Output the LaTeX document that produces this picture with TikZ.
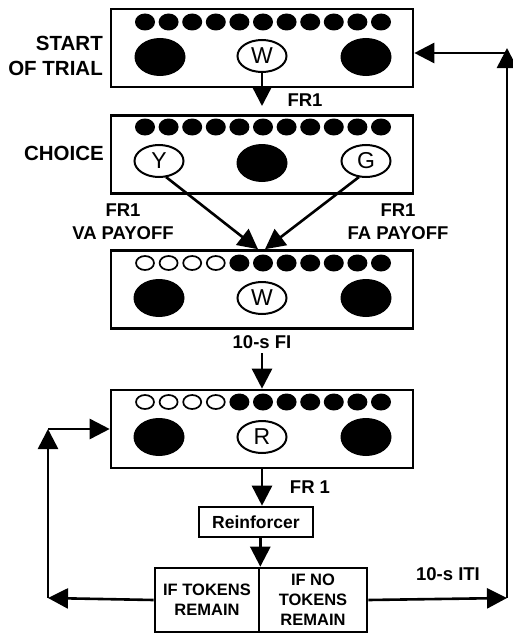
\documentclass[tikz,border=0pt]{standalone}
\usepackage{fontspec}
\setmainfont{Liberation Sans}
\usetikzlibrary{shapes.geometric,arrows.meta,calc}
\begin{document}
\begin{tikzpicture}[x=1pt,y=-1pt,
  panel/.style={draw, line width=2.6pt, minimum width=302pt, minimum height=78pt, inner sep=0pt},
  tok/.style={ellipse, fill=black, minimum width=20pt, minimum height=17pt, inner sep=0pt},
  otok/.style={ellipse, draw, line width=1.7pt, minimum width=18pt, minimum height=14pt, inner sep=0pt},
  bigkey/.style={ellipse, fill=black, minimum width=51pt, minimum height=38pt, inner sep=0pt},
  lkey/.style={ellipse, draw, line width=2pt, minimum width=49pt, minimum height=32pt, inner sep=0pt, font=\fontsize{23}{23}\selectfont},
  lbl/.style={font=\bfseries\fontsize{18.5}{23}\selectfont, align=center, inner sep=0pt},
  side/.style={font=\bfseries\fontsize{20.5}{25}\selectfont, align=right, inner sep=0pt, anchor=east},
  cbox/.style={draw, line width=2.6pt, inner sep=0pt, align=center, font=\bfseries\fontsize{16.5}{20}\selectfont},
  arr/.style={line width=2.6pt, -{Triangle[length=20pt,width=20pt]}},
  ln/.style={line width=2.6pt}]
\useasboundingbox (0,0) rectangle (513,634);

% panels
\node[panel] (b1) at (262,48) {};
\node[panel] (b2) at (262,154.5) {};
\node[panel] (b3) at (262,289.5) {};
\node[panel] (b4) at (262,429) {};

% token rows
\foreach \i in {0,...,10} {
  \node[tok] (t1-\i) at ({145+23.6*\i},22) {};
  \node[tok] (t2-\i) at ({145+23.6*\i},127) {};
}
\foreach \i in {0,...,3} {
  \node[otok] (t3-\i) at ({145+23.6*\i},263) {};
  \node[otok] (t4-\i) at ({145+23.6*\i},402) {};
}
\foreach \i in {4,...,10} {
  \node[tok] (t3-\i) at ({145+23.6*\i},263) {};
  \node[tok] (t4-\i) at ({145+23.6*\i},402) {};
}

% keys
\node[bigkey] (k1l) at (160,57) {};
\node[lkey] (k1c) at (262,56) {W};
\node[bigkey] (k1r) at (366,57) {};

\node[lkey] (k2l) at (159,161) {Y};
\node[bigkey] (k2c) at (262,163) {};
\node[lkey] (k2r) at (366,161) {G};

\node[bigkey] (k3l) at (159,298) {};
\node[lkey] (k3c) at (262,298) {W};
\node[bigkey] (k3r) at (366,298) {};

\node[bigkey] (k4l) at (159,437) {};
\node[lkey] (k4c) at (262,437) {R};
\node[bigkey] (k4r) at (366,437) {};

% side labels
\node[side] (s1) at (103,55.5) {START\\OF TRIAL};
\node[side] (s2) at (104,153) {CHOICE};

% labels
\node[lbl] (fr1a) at (305,100) {FR1};
\node[lbl] (va) at (123,221.5) {FR1\\VA PAYOFF};
\node[lbl] (fa) at (398,221.5) {FR1\\FA PAYOFF};
\node[lbl] (fi) at (262,342) {10-s FI};
\node[lbl] (fr1b) at (310,487) {FR 1};
\node[lbl] (iti) at (448,574) {10-s ITI};

% reinforcer and outcome boxes
\node[cbox, minimum width=114pt, minimum height=30pt, font=\bfseries\fontsize{17.5}{20}\selectfont] (rf) at (256,522) {Reinforcer};
\node[cbox, minimum width=104pt, minimum height=64pt] (yes) at (207,600) {IF TOKENS\\REMAIN};
\node[cbox, minimum width=108pt, minimum height=64pt] (no) at (313,600) {IF NO\\TOKENS\\REMAIN};

% coordinates
\coordinate (a1) at (262,106);
\coordinate (fiTop) at (262,353);
\coordinate (cl) at (48,598);
\coordinate (clt) at (48,429);
\coordinate (cr) at (507,598);
\coordinate (crt) at (507,48);
\coordinate (crh) at (507,53);
\coordinate (ylo) at (166,177);
\coordinate (glo) at (359,177);

% connectors
\draw[arr] (k1c.south) -- (a1);
\draw[arr] (ylo) -- ($(b3.north)+(-4,0)$);
\draw[arr] (glo) -- ($(b3.north)+(3,0)$);
\draw[arr] (fiTop) -- (b4.north);
\draw[arr] (b4.south) -- (rf.north -| b4.south);
\draw[arr] (rf.south -| yes.north east) -- (yes.north east);
\draw[arr] (yes.west) -- (cl);
\draw[arr] (cl) -- (clt);
\draw[arr] (clt) -- (b4.west);
\draw[arr] (no.east) -- (cr);
\draw[arr] (cr) -- (crt);
\draw[arr] (crh) -- (b1.east |- crh);
\end{tikzpicture}
\end{document}
